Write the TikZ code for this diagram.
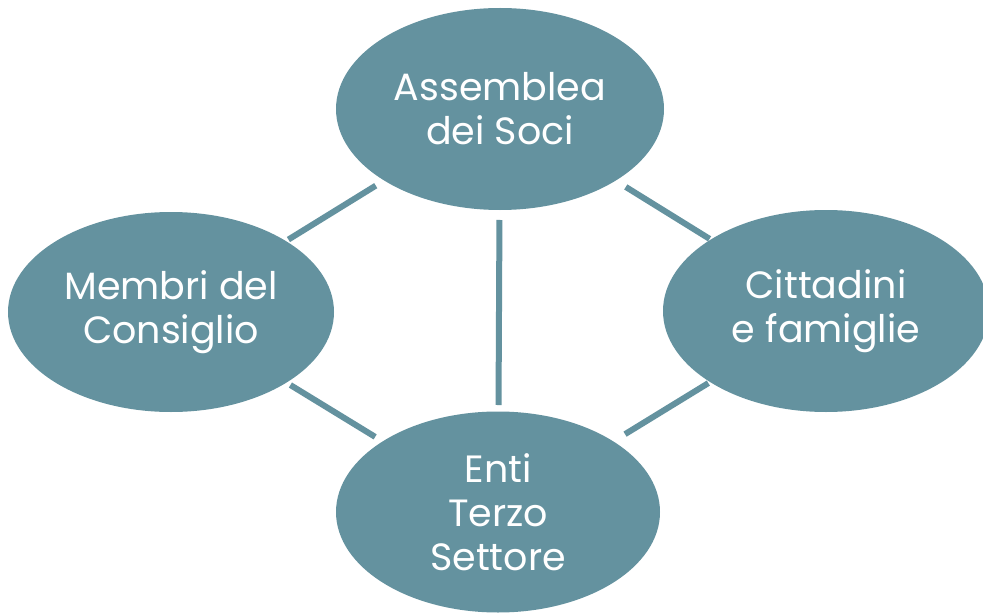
\documentclass[tikz,border=0pt]{standalone}
\usepackage{fontspec}
\setmainfont{Poppins}
\usetikzlibrary{shapes.geometric}
\definecolor{teal1}{RGB}{100,146,159}
\tikzset{
  blob/.style={ellipse, fill=teal1, draw=none, minimum width=#1, inner sep=0pt, text=white, align=center,
    font=\fontsize{38}{44}\selectfont},
  link/.style={draw=teal1, line width=6pt}
}
\begin{document}
\begin{tikzpicture}[x=1pt,y=-1pt]
\useasboundingbox[fill=white] (0,0) rectangle (983,615);
\node[blob=328pt, minimum height=202pt] (T) at (500,109) {Assemblea\\dei Soci};
\node[blob=326pt, minimum height=200pt] (L) at (171,312) {Membri del\\Consiglio};
\node[blob=326pt, minimum height=202pt] (R) at (826,311) {Cittadini\\e famiglie};
\node[blob=324pt, minimum height=201pt] (B) at (498,512) {Enti\\Terzo\\Settore};
\draw[link, shorten <=138pt, shorten >=146pt] (L.center) -- (T.center);
\draw[link, shorten <=140pt, shorten >=144pt] (L.center) -- (B.center);
\draw[link, shorten <=148pt, shorten >=137pt] (T.center) -- (R.center);
\draw[link, shorten <=138pt, shorten >=149pt] (R.center) -- (B.center);
\draw[link, shorten <=111pt, shorten >=107pt] (T.center) -- (B.center);
\end{tikzpicture}
\end{document}
